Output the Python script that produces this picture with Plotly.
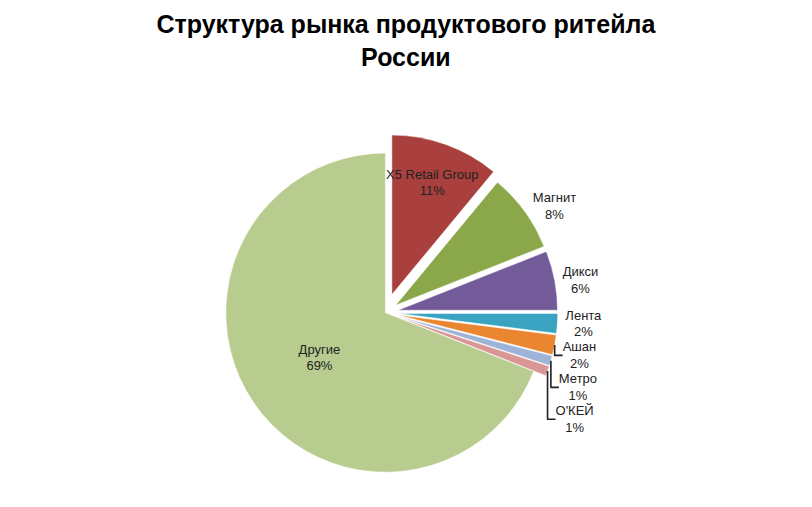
import plotly.graph_objects as go

labels = ["X5 Retail Group", "Магнит", "Дикси", "Лента", "Ашан", "Метро", "О'КЕЙ", "Другие"]
values = [11, 8, 6, 2, 2, 1, 1, 69]
colors = ["#A9403D", "#8AA84A", "#735A99", "#3AA3C1", "#E9862F", "#9DB4D8", "#D99694", "#B7CC8E"]
pulls = [0.12, 0.08, 0.08, 0.08, 0.08, 0.08, 0.08, 0]
positions = ["inside", "outside", "outside", "outside", "outside", "outside", "outside", "inside"]

fig = go.Figure(go.Pie(
    labels=labels, values=values, sort=False, direction="clockwise", rotation=0,
    pull=pulls, marker=dict(colors=colors, line=dict(color="#ffffff", width=0.5)),
    texttemplate="%{label}<br>%{percent:.0%}", textposition=positions,
    textfont=dict(family="Liberation Sans", size=13, color="#222222"),
    insidetextorientation="horizontal", showlegend=False,
    domain=dict(x=[0.05, 0.9], y=[0.02, 0.76]),
))
fig.update_layout(
    width=812, height=507, paper_bgcolor="white",
    margin=dict(l=10, r=10, t=10, b=10),
    uniformtext=dict(minsize=13, mode="show"),
    title=dict(text="<b>Структура рынка продуктового ритейла<br>России</b>",
               x=0.49, y=0.95, xanchor="center",
               font=dict(family="Liberation Sans", size=25, color="#000000")),
)
fig.write_html("out.html")
